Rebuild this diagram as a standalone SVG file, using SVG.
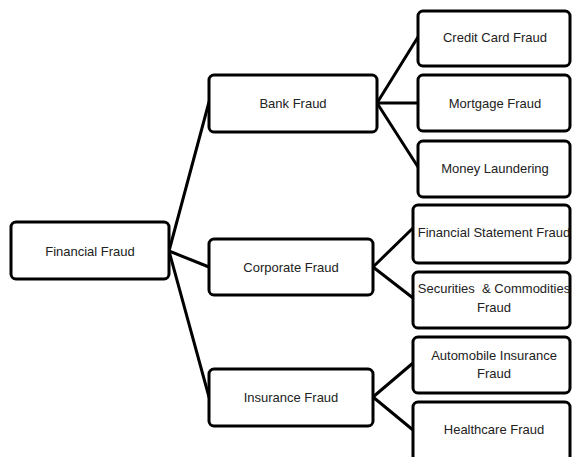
<svg xmlns="http://www.w3.org/2000/svg" width="572" height="457" viewBox="0 0 572 457">
<style>
.box{fill:#fff;stroke:#000;stroke-width:3}
.t{font-family:"Liberation Sans",Arial,sans-serif;font-size:13px;fill:#222;text-anchor:middle;dominant-baseline:central}
.c{stroke:#000;stroke-width:3;fill:none;stroke-linecap:round}
</style>
<rect width="572" height="457" fill="#fff"/>
<g id="connectors">
<line class="c" x1="169" y1="251" x2="209" y2="102"/>
<line class="c" x1="169" y1="251" x2="209" y2="267"/>
<line class="c" x1="169" y1="251" x2="209" y2="397"/>
<line class="c" x1="377" y1="103" x2="418" y2="37"/>
<line class="c" x1="377" y1="103" x2="418" y2="103"/>
<line class="c" x1="377" y1="103" x2="418" y2="167"/>
<line class="c" x1="373" y1="267" x2="413" y2="228"/>
<line class="c" x1="373" y1="267" x2="413" y2="298"/>
<line class="c" x1="373" y1="397" x2="413" y2="363"/>
<line class="c" x1="373" y1="397" x2="413" y2="430"/>
</g>
<g id="financial-fraud"><rect class="box" x="11" y="222" width="158" height="57" rx="5"/><text class="t" x="90" y="251">Financial Fraud</text></g>
<g id="bank-fraud"><rect class="box" x="209" y="75" width="168" height="57" rx="5"/><text class="t" x="293" y="103">Bank Fraud</text></g>
<g id="corporate-fraud"><rect class="box" x="209" y="239" width="164" height="56" rx="5"/><text class="t" x="291" y="267">Corporate Fraud</text></g>
<g id="insurance-fraud"><rect class="box" x="209" y="369" width="164" height="57" rx="5"/><text class="t" x="291" y="397">Insurance Fraud</text></g>
<g id="credit-card-fraud"><rect class="box" x="418" y="11" width="152" height="55" rx="5"/><text class="t" x="495" y="37">Credit Card Fraud</text></g>
<g id="mortgage-fraud"><rect class="box" x="418" y="75" width="152" height="56" rx="5"/><text class="t" x="495" y="103">Mortgage Fraud</text></g>
<g id="money-laundering"><rect class="box" x="418" y="141" width="152" height="56" rx="5"/><text class="t" x="495" y="168">Money Laundering</text></g>
<g id="financial-statement-fraud"><rect class="box" x="413" y="205" width="157" height="58" rx="5"/><text class="t" x="494" y="232">Financial Statement Fraud</text></g>
<g id="securities-commodities-fraud"><rect class="box" x="413" y="272" width="157" height="56" rx="5"/><text class="t" x="494" y="288" xml:space="preserve">Securities  &amp; Commodities</text><text class="t" x="494" y="307">Fraud</text></g>
<g id="automobile-insurance-fraud"><rect class="box" x="413" y="337" width="157" height="56" rx="5"/><text class="t" x="494" y="355">Automobile Insurance</text><text class="t" x="494" y="373">Fraud</text></g>
<g id="healthcare-fraud"><rect class="box" x="413" y="402" width="157" height="60" rx="5"/><text class="t" x="494" y="429">Healthcare Fraud</text></g>
</svg>
